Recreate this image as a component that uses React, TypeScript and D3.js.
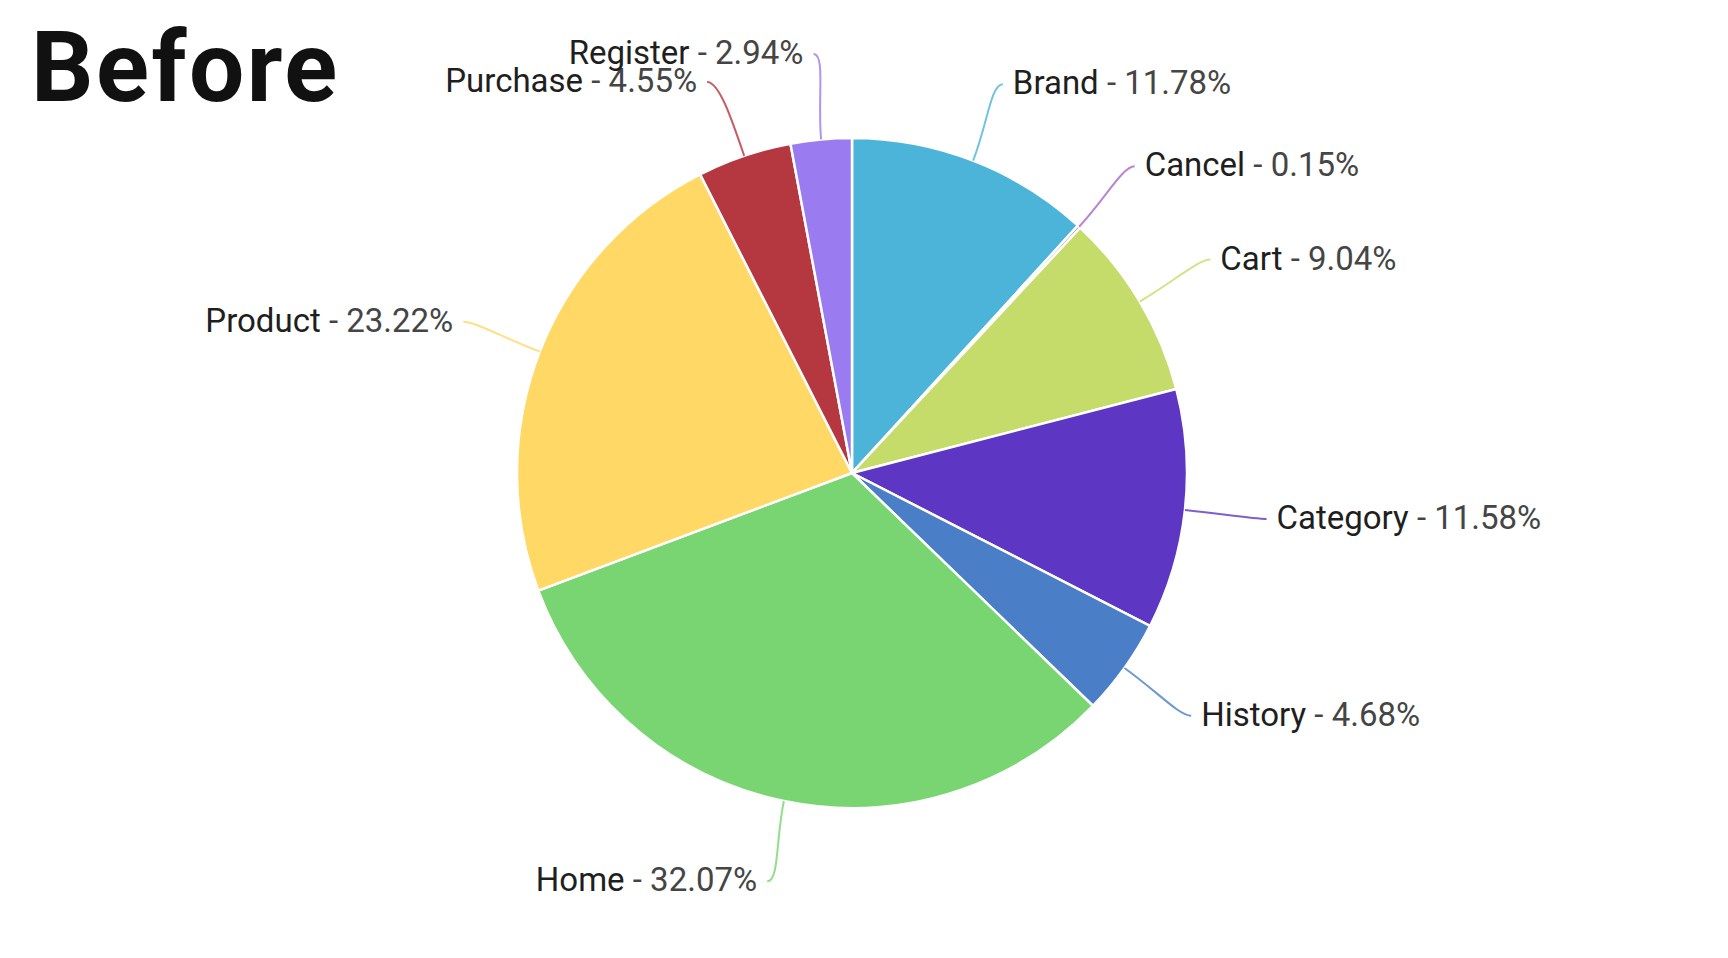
import * as d3 from 'd3';

const CATEGORIES = ['Brand', 'Cancel', 'Cart', 'Category', 'History', 'Home', 'Product', 'Purchase', 'Register'];
const SHARES = [11.78, 0.15, 9.04, 11.58, 4.68, 32.07, 23.22, 4.55, 2.94];
const COLORS = ['#4db4d9', '#a866c4', '#c5dc6b', '#5d37c4', '#4a7ec6', '#79d572', '#ffd866', '#b5373f', '#9a7bf0'];

const WIDTH = 1728;
const HEIGHT = 958;

interface Slice {
  name: string;
  value: number;
  color: string;
}

const slices: Slice[] = CATEGORIES.map((name, i) => ({ name, value: SHARES[i], color: COLORS[i] }));

export default function App() {
  const cx = 852;
  const cy = 473;
  const radius = 335;
  const labelRadius = radius * 1.245;
  const minGap = 28;

  const pie = d3.pie<Slice>().value(d => d.value).sort(null);
  const arc = d3.arc<d3.PieArcDatum<Slice>>().innerRadius(0).outerRadius(radius);
  const at = (r: number) => d3.arc<d3.PieArcDatum<Slice>>().innerRadius(r).outerRadius(r);
  const edgeArc = at(radius);
  const bendArc = at(radius * 1.12);
  const labelArc = at(labelRadius);

  const arcs = pie(slices);

  // label anchors, with a simple push-apart for labels on the same side
  const labels = arcs.map(d => {
    const [x, y] = labelArc.centroid(d);
    return { d, x, y, side: x >= 0 ? 1 : -1 };
  });
  for (let pass = 0; pass < 4; pass++) {
    for (let i = 0; i < labels.length; i++) {
      for (let j = i + 1; j < labels.length; j++) {
        const a = labels[i];
        const b = labels[j];
        if (a.side !== b.side) continue;
        const dy = b.y - a.y;
        if (Math.abs(dy) < minGap) {
          const push = (minGap - Math.abs(dy)) / 2;
          const dir = dy >= 0 ? 1 : -1;
          a.y -= dir * push;
          b.y += dir * push;
        }
      }
    }
  }
  labels.forEach(l => {
    const rem = labelRadius * labelRadius - l.y * l.y;
    if (rem > l.x * l.x) l.x = l.side * Math.sqrt(rem);
  });

  return (
    <div style={{ position: 'absolute', top: 0, left: 0 }}>
      <svg width={WIDTH} height={HEIGHT} style={{ display: 'block', background: '#fff' }}>
        <text x={31} y={101} fontFamily="Roboto" fontWeight={700} fontSize={98} letterSpacing={2.5} fill="#111">
          Before
        </text>
        <g transform={`translate(${cx}, ${cy})`}>
          {arcs.map(d => (
            <path key={d.data.name} d={arc(d) ?? ''} fill={d.data.color} stroke="#fff" strokeWidth={2.5} />
          ))}
          {labels.map(({ d, x, y, side }) => {
            const p0 = edgeArc.centroid(d);
            const c1 = bendArc.centroid(d);
            const path = d3.path();
            path.moveTo(p0[0], p0[1]);
            path.bezierCurveTo(c1[0], c1[1], x - side * 12, y, x, y);
            return (
              <g key={`lbl-${d.data.name}`}>
                <path d={path.toString()} fill="none" stroke={d.data.color} strokeOpacity={0.8} strokeWidth={2} />
                <text
                  x={x + side * 10}
                  y={y + 10}
                  textAnchor={side > 0 ? 'start' : 'end'}
                  fontFamily="Roboto"
                  fontSize={33}
                >
                  <tspan fill="#1f1f1f">{d.data.name}</tspan>
                  <tspan fill="#454545">{` - ${d.data.value.toFixed(2)}%`}</tspan>
                </text>
              </g>
            );
          })}
        </g>
      </svg>
    </div>
  );
}
